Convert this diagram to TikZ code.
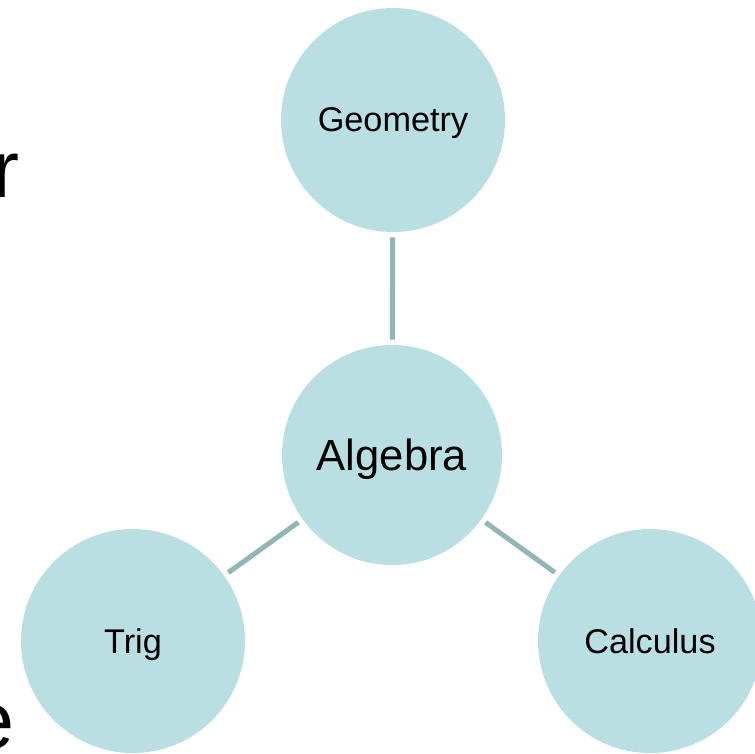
\documentclass[tikz,border=0pt]{standalone}
\usepackage{fontspec}
\setmainfont{Liberation Sans}
\usepackage{xcolor}
\usetikzlibrary{positioning}
\definecolor{bubblefill}{HTML}{BADFE3}
\definecolor{linkgray}{HTML}{93B5B8}

\begin{document}
\begin{tikzpicture}[
    topic/.style={circle, fill=bubblefill, draw=none, inner sep=0pt, text depth=0pt,
                  minimum size=4.48cm, font=\fontsize{19.5}{22}\selectfont},
    hub/.style={topic, minimum size=4.4cm, font=\fontsize{24.8}{28}\selectfont},
    link/.style={draw=linkgray, line width=0.1cm, shorten <=0.1cm, shorten >=0.1cm},
    bigtext/.style={font=\fontsize{46}{50}\selectfont, inner sep=0pt}]
    \useasboundingbox (0,0) rectangle (15.1,-15.06);
    \clip (0,0) rectangle (15.1,-15.06);
    % clipped slide text at the left edge
    \node[bigtext, anchor=base east] (titletail) at (0.4,-3.94) {r};
    \node[bigtext, anchor=base east] (bodytail) at (0.3,-14.96) {e};
    % bubbles
    \node[hub] (algebra) at (7.84,-9.1) {Algebra};
    \node[topic] (geometry) at (7.86,-2.4) {Geometry};
    \node[topic] (trig) at (2.66,-12.82) {Trig};
    \node[topic] (calculus) at (13.0,-12.82) {Calculus};
    % links
    \draw[link] (algebra) -- (geometry);
    \draw[link] (algebra) -- (trig);
    \draw[link] (algebra) -- (calculus);
\end{tikzpicture}
\end{document}
